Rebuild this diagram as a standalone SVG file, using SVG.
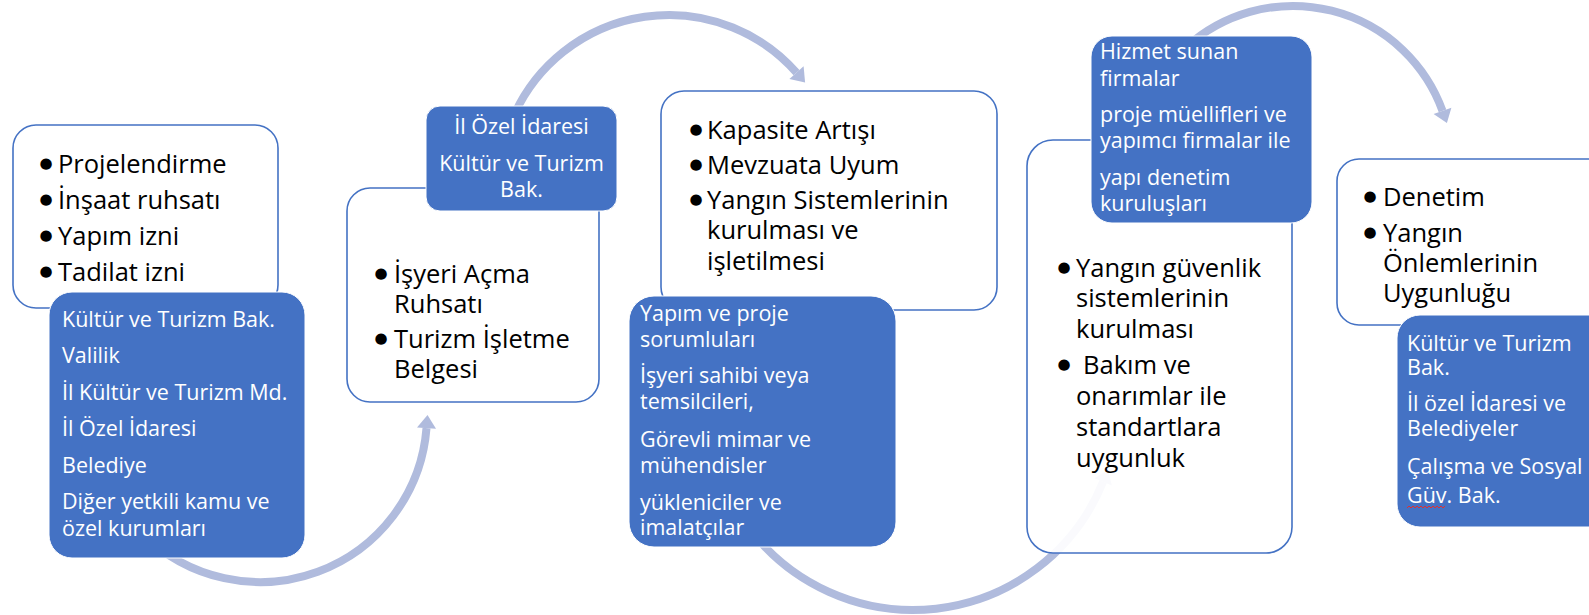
<svg xmlns="http://www.w3.org/2000/svg" width="1589" height="615" viewBox="0 0 1589 615">
<style>
.wbox{fill:#ffffff;fill-opacity:0.93;stroke:#4472C4;stroke-width:1.6}
.bbox{fill:#4472C4;stroke:#ffffff;stroke-width:1}
.arc{fill:none;stroke:#B0BBDD;stroke-width:8;stroke-linecap:butt}
.head{fill:#B0BBDD}
.wt{font-family:"Open Sans","Noto Sans",sans-serif;font-size:25.5px;fill:#000000}
.bt{font-family:"Open Sans","Noto Sans",sans-serif;font-size:21.5px;fill:#ffffff}
.bul{font-family:"DejaVu Sans",sans-serif;font-size:15px;fill:#000000;text-anchor:middle}
</style>
<rect width="1589" height="615" fill="#ffffff"/>
<g id="connectors">
<path class="arc" d="M 141.9 533.1 A 167 167 0 0 0 426.5 428.1"/>
<polygon class="head" points="427.5,415.1 436,428.8 417,427.4"/>
<path class="arc" d="M 514.9 113.2 A 170 170 0 0 1 796.5 72.6"/>
<polygon class="head" points="805.1,82.4 803.6,66.3 789.4,78.9"/>
<path class="arc" d="M 745.1 522.6 A 205 205 0 0 0 1103.1 481.8"/>
<polygon class="head" points="1108,469.7 1111.9,485.4 1094.3,478.2"/>
<path class="arc" d="M 1186.6 46.8 A 159 159 0 0 1 1442.5 110.9"/>
<polygon class="head" points="1446.9,123.1 1451.4,107.7 1433.6,114.1"/>
</g>
<g id="step1">
<rect class="wbox" x="13" y="125" width="265" height="183" rx="23"/>
<text class="bul" x="46" y="168">●</text><text class="wt" x="58" y="173">Projelendirme</text>
<text class="bul" x="46" y="204">●</text><text class="wt" x="58" y="209">İnşaat ruhsatı</text>
<text class="bul" x="46" y="240">●</text><text class="wt" x="58" y="245">Yapım izni</text>
<text class="bul" x="46" y="276">●</text><text class="wt" x="58" y="281">Tadilat izni</text>
</g>
<g id="actors1">
<rect class="bbox" x="49" y="292" width="256" height="266" rx="23"/>
<text class="bt"><tspan x="62" y="327">Kültür ve Turizm Bak.</tspan><tspan x="62" y="363">Valilik</tspan><tspan x="62" y="400">İl Kültür ve Turizm Md.</tspan><tspan x="62" y="436">İl Özel İdaresi</tspan><tspan x="62" y="473">Belediye</tspan><tspan x="62" y="509">Diğer yetkili kamu ve</tspan><tspan x="62" y="536">özel kurumları</tspan></text>
</g>
<g id="step2">
<rect class="wbox" x="347" y="188" width="252" height="214" rx="23"/>
<text class="bul" x="381" y="278">●</text><text class="wt"><tspan x="394" y="283">İşyeri Açma</tspan><tspan x="394" y="313">Ruhsatı</tspan></text>
<text class="bul" x="381" y="343">●</text><text class="wt"><tspan x="394" y="348">Turizm İşletme</tspan><tspan x="394" y="378">Belgesi</tspan></text>
</g>
<g id="actors2">
<rect class="bbox" x="426" y="106" width="191" height="105" rx="14"/>
<text class="bt" text-anchor="middle"><tspan x="521.5" y="134">İl Özel İdaresi</tspan><tspan x="521.5" y="171">Kültür ve Turizm</tspan><tspan x="521.5" y="197">Bak.</tspan></text>
</g>
<g id="step3">
<rect class="wbox" x="661" y="91" width="336" height="219" rx="23"/>
<text class="bul" x="696" y="134">●</text><text class="wt" x="707" y="139">Kapasite Artışı</text>
<text class="bul" x="696" y="169">●</text><text class="wt" x="707" y="174">Mevzuata Uyum</text>
<text class="bul" x="696" y="204">●</text><text class="wt"><tspan x="707" y="209">Yangın Sistemlerinin</tspan><tspan x="707" y="239">kurulması ve</tspan><tspan x="707" y="270">işletilmesi</tspan></text>
</g>
<g id="actors3">
<rect class="bbox" x="629" y="296" width="267" height="251" rx="25"/>
<text class="bt"><tspan x="640" y="321">Yapım ve proje</tspan><tspan x="640" y="347">sorumluları</tspan><tspan x="640" y="383">İşyeri sahibi veya</tspan><tspan x="640" y="409">temsilcileri,</tspan><tspan x="640" y="447">Görevli mimar ve</tspan><tspan x="640" y="473">mühendisler</tspan><tspan x="640" y="510">yükleniciler ve</tspan><tspan x="640" y="535">imalatçılar</tspan></text>
</g>
<g id="step4">
<rect class="wbox" x="1027" y="140" width="265" height="413" rx="26"/>
<text class="bul" x="1064" y="272">●</text><text class="wt"><tspan x="1076" y="277">Yangın güvenlik</tspan><tspan x="1076" y="307">sistemlerinin</tspan><tspan x="1076" y="338">kurulması</tspan></text>
<text class="bul" x="1064" y="369">●</text><text class="wt"><tspan x="1083" y="374">Bakım ve</tspan><tspan x="1076" y="405">onarımlar ile</tspan><tspan x="1076" y="436">standartlara</tspan><tspan x="1076" y="467">uygunluk</tspan></text>
</g>
<g id="actors4">
<rect class="bbox" x="1091" y="36" width="221" height="187" rx="21"/>
<text class="bt"><tspan x="1100" y="59">Hizmet sunan</tspan><tspan x="1100" y="86">firmalar</tspan><tspan x="1100" y="122">proje müellifleri ve</tspan><tspan x="1100" y="148">yapımcı firmalar ile</tspan><tspan x="1100" y="185">yapı denetim</tspan><tspan x="1100" y="211">kuruluşları</tspan></text>
</g>
<g id="step5">
<rect class="wbox" x="1337" y="159" width="280" height="166" rx="22"/>
<text class="bul" x="1370" y="201">●</text><text class="wt" x="1383" y="206">Denetim</text>
<text class="bul" x="1370" y="237">●</text><text class="wt"><tspan x="1383" y="242">Yangın</tspan><tspan x="1383" y="272">Önlemlerinin</tspan><tspan x="1383" y="302">Uygunluğu</tspan></text>
</g>
<g id="actors5">
<rect class="bbox" x="1397" y="315" width="220" height="212" rx="23"/>
<text class="bt"><tspan x="1407" y="351">Kültür ve Turizm</tspan><tspan x="1407" y="375">Bak.</tspan><tspan x="1407" y="411">İl özel İdaresi ve</tspan><tspan x="1407" y="436">Belediyeler</tspan><tspan x="1407" y="474">Çalışma ve Sosyal</tspan><tspan x="1407" y="503">Güv. Bak.</tspan></text>
<path d="M1407 508 l2 -2 l2 2 l2 -2 l2 2 l2 -2 l2 2 l2 -2 l2 2 l2 -2 l2 2 l2 -2 l2 2 l2 -2 l2 2 l2 -2 l2 2 l2 -2 l2 2 l2 -2" fill="none" stroke="#E03030" stroke-width="1"/>
</g>
</svg>
